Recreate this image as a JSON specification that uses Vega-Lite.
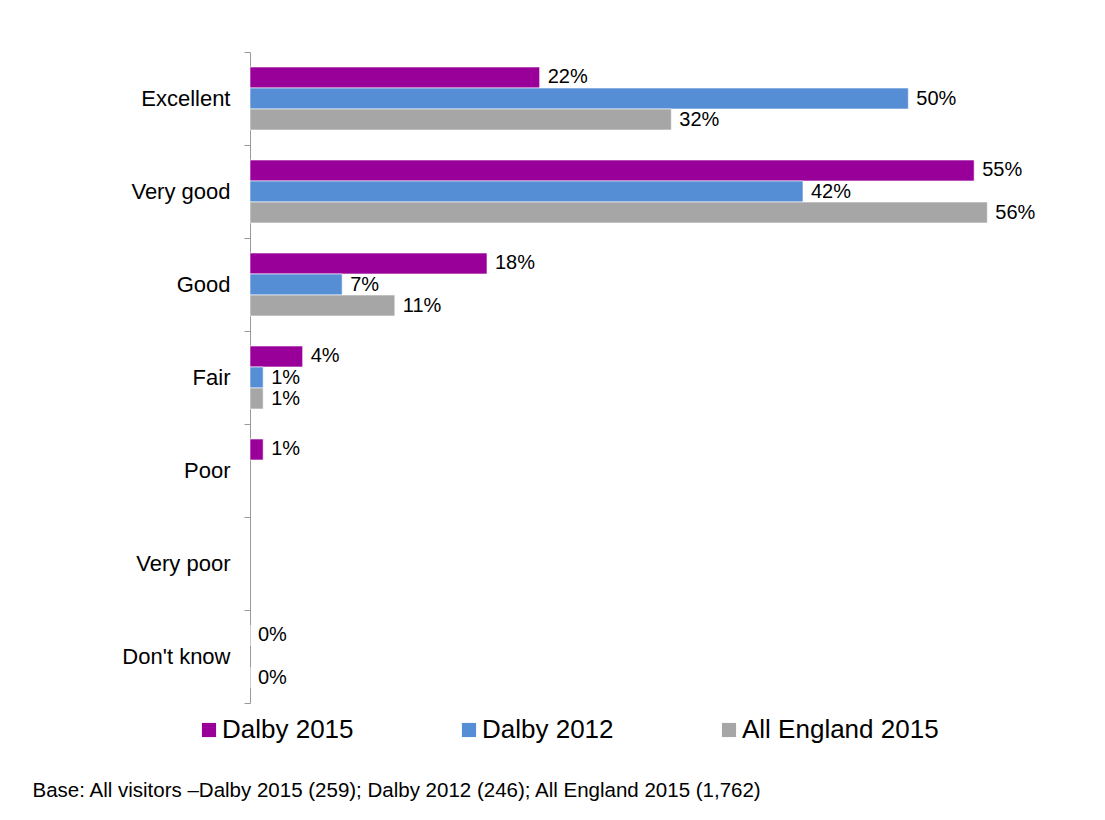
{
  "$schema": "https://vega.github.io/schema/vega-lite/v6.json",
  "width": 790,
  "height": 651,
  "autosize": {"type": "none"},
  "padding": {"left": 250, "top": 52, "right": 65, "bottom": 117},
  "background": "white",
  "config": {
    "font": "Liberation Sans",
    "view": {"stroke": null}
  },
  "data": {
    "values": [
      {"rating": "Excellent", "series": "Dalby 2015", "value": 0.22},
      {"rating": "Excellent", "series": "Dalby 2012", "value": 0.50},
      {"rating": "Excellent", "series": "All England 2015", "value": 0.32},
      {"rating": "Very good", "series": "Dalby 2015", "value": 0.55},
      {"rating": "Very good", "series": "Dalby 2012", "value": 0.42},
      {"rating": "Very good", "series": "All England 2015", "value": 0.56},
      {"rating": "Good", "series": "Dalby 2015", "value": 0.18},
      {"rating": "Good", "series": "Dalby 2012", "value": 0.07},
      {"rating": "Good", "series": "All England 2015", "value": 0.11},
      {"rating": "Fair", "series": "Dalby 2015", "value": 0.04},
      {"rating": "Fair", "series": "Dalby 2012", "value": 0.01},
      {"rating": "Fair", "series": "All England 2015", "value": 0.01},
      {"rating": "Poor", "series": "Dalby 2015", "value": 0.01},
      {"rating": "Don't know", "series": "Dalby 2015", "value": 0.0},
      {"rating": "Don't know", "series": "All England 2015", "value": 0.0}
    ]
  },
  "encoding": {
    "y": {
      "field": "rating",
      "type": "nominal",
      "scale": {
        "domain": ["Excellent", "Very good", "Good", "Fair", "Poor", "Very poor", "Don't know"],
        "paddingInner": 0,
        "paddingOuter": 0
      },
      "axis": {
        "title": null,
        "tickBand": "extent",
        "domainColor": "#999999",
        "tickColor": "#999999",
        "tickSize": 6,
        "labelFontSize": 22,
        "labelColor": "#000000",
        "labelPadding": 14,
        "labelLimit": 300
      }
    },
    "yOffset": {
      "field": "series",
      "type": "nominal",
      "scale": {
        "domain": ["Dalby 2015", "Dalby 2012", "All England 2015"],
        "paddingInner": 0,
        "paddingOuter": 0.714
      }
    },
    "x": {
      "field": "value",
      "type": "quantitative",
      "scale": {"domain": [0, 0.6], "nice": false},
      "axis": {
        "title": "Base: All visitors \u2013Dalby 2015 (259); Dalby 2012 (246); All England 2015 (1,762)",
        "labels": false,
        "ticks": false,
        "domain": false,
        "grid": false,
        "titleX": -218,
        "titleY": 87,
        "titleAlign": "left",
        "titleBaseline": "middle",
        "titleFontWeight": "normal",
        "titleFontSize": 20.5,
        "titleColor": "#000000"
      }
    }
  },
  "layer": [
    {
      "mark": {"type": "bar", "stroke": "white", "strokeWidth": 0.6},
      "encoding": {
        "color": {
          "field": "series",
          "type": "nominal",
          "scale": {
            "domain": ["Dalby 2015", "Dalby 2012", "All England 2015"],
            "range": ["#990099", "#558ED5", "#A6A6A6"]
          },
          "legend": {
            "title": null,
            "orient": "none",
            "direction": "horizontal",
            "columns": 3,
            "legendX": -54,
            "legendY": 665,
            "symbolType": "square",
            "symbolSize": 200,
            "symbolStrokeWidth": 0,
            "symbolOpacity": 1,
            "labelFontSize": 26,
            "labelColor": "#000000",
            "labelOffset": 0,
            "columnPadding": 102,
            "labelLimit": 400
          }
        }
      }
    },
    {
      "mark": {"type": "text", "align": "left", "baseline": "middle", "dx": 8, "fontSize": 20, "color": "#000000"},
      "encoding": {
        "text": {"field": "value", "type": "quantitative", "format": ".0%"}
      }
    }
  ]
}
